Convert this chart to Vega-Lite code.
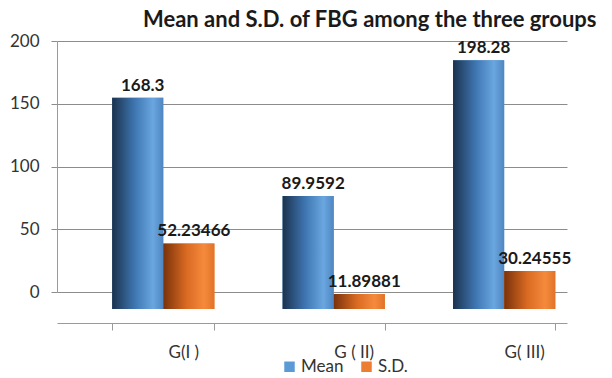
{
  "$schema": "https://vega.github.io/schema/vega-lite/v6.json",
  "width": 510,
  "height": 251,
  "autosize": "none",
  "padding": {"left": 57, "top": 41, "right": 45, "bottom": 86},
  "background": "white",
  "title": {
    "text": "Mean and S.D. of FBG among the three groups",
    "anchor": "start",
    "frame": "group",
    "dx": 86,
    "dy": 17,
    "offset": 0,
    "baseline": "alphabetic",
    "font": "Lato",
    "fontSize": 22,
    "fontWeight": "bold",
    "color": "#1a1a1a"
  },
  "data": {
    "values": [
      {"group": "G(I )", "series": "Mean", "value": 168.3},
      {"group": "G(I )", "series": "S.D.", "value": 52.23466},
      {"group": "G ( II)", "series": "Mean", "value": 89.9592},
      {"group": "G ( II)", "series": "S.D.", "value": 11.89881},
      {"group": "G( III)", "series": "Mean", "value": 198.28},
      {"group": "G( III)", "series": "S.D.", "value": 30.24555}
    ]
  },
  "encoding": {
    "x": {
      "field": "group",
      "type": "nominal",
      "sort": null,
      "scale": {"paddingInner": 0.4, "paddingOuter": 0.196, "align": 0.825},
      "axis": {
        "title": null,
        "labelAngle": 0,
        "labelFont": "Lato",
        "labelFontSize": 17,
        "labelColor": "#333333",
        "labelPadding": 14,
        "labelOffset": 20,
        "offset": 31,
        "tickBand": "extent",
        "tickOffset": 20,
        "tickSize": 7,
        "tickColor": "#9a9a9a",
        "domainColor": "#9a9a9a"
      }
    },
    "xOffset": {"field": "series", "type": "nominal", "scale": {"paddingInner": 0, "paddingOuter": 0}},
    "y": {
      "field": "value",
      "type": "quantitative",
      "scale": {"domain": [0, 200]},
      "axis": {
        "title": null,
        "values": [0, 50, 100, 150, 200],
        "labelFont": "Lato",
        "labelFontSize": 17,
        "labelColor": "#333333",
        "labelPadding": 12,
        "tickSize": 6,
        "tickColor": "#8c8c8c",
        "domainColor": "#9a9a9a",
        "gridColor": "#8c8c8c",
        "gridWidth": 1
      }
    }
  },
  "layer": [
    {
      "mark": {"type": "bar", "yOffset": 17, "y2Offset": 17},
      "encoding": {
        "color": {
          "field": "series",
          "type": "nominal",
          "scale": {"domain": ["Mean", "S.D."], "range": ["#5b9bd5", "#ed7d31"]},
          "legend": {
            "title": null,
            "orient": "none",
            "legendX": 224,
            "legendY": 317,
            "direction": "horizontal",
            "symbolType": "square",
            "symbolSize": 110,
            "symbolStrokeWidth": 0,
            "labelFont": "Lato",
            "labelFontSize": 17,
            "labelColor": "#333333",
            "labelOffset": 3,
            "columnPadding": 14
          }
        }
      }
    },
    {
      "mark": {"type": "bar", "yOffset": 17, "y2Offset": 17},
      "encoding": {
        "fill": {
          "condition": {
            "test": "datum.series === 'Mean'",
            "value": {"gradient": "linear", "x1": 0, "x2": 1, "y1": 0, "y2": 0,
              "stops": [
                {"offset": 0, "color": "#1b324d"},
                {"offset": 0.45, "color": "#3f77b3"},
                {"offset": 0.8, "color": "#6aa6df"},
                {"offset": 1, "color": "#4f86c2"}
              ]}
          },
          "value": {"gradient": "linear", "x1": 0, "x2": 1, "y1": 0, "y2": 0,
            "stops": [
              {"offset": 0, "color": "#7a320b"},
              {"offset": 0.45, "color": "#d96a22"},
              {"offset": 0.8, "color": "#f58a3c"},
              {"offset": 1, "color": "#e07328"}
            ]}
        }
      }
    },
    {
      "mark": {
        "type": "text",
        "baseline": "bottom",
        "dx": 5,
        "dy": 14,
        "font": "Lato",
        "fontSize": 17,
        "fontWeight": "bold",
        "color": "#1a1a1a"
      },
      "encoding": {
        "text": {"field": "value", "type": "quantitative", "format": ""}
      }
    }
  ],
  "config": {
    "view": {"stroke": null}
  }
}
